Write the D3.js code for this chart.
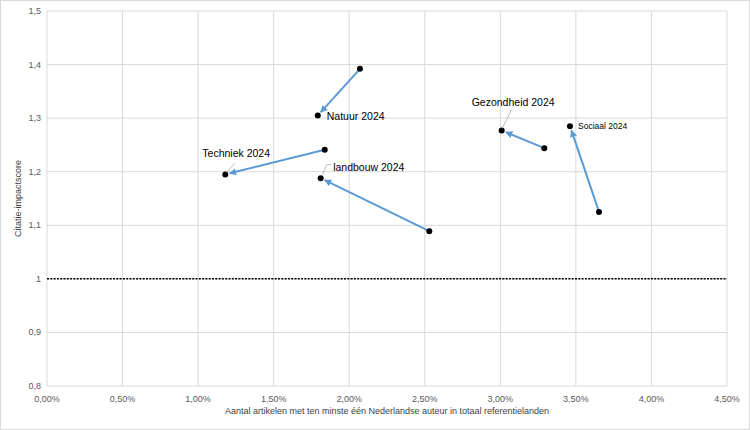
<!DOCTYPE html>
<html lang="nl">
<head>
<meta charset="utf-8">
<title>Citatie-impactscore</title>
<script src="https://cdn.jsdelivr.net/npm/d3@7"></script>
<style>
  body { margin: 0; background: #fff; }
  text { font-family: "Liberation Sans", Arial, sans-serif; }
</style>
</head>
<body>
<script>
// data
var fields    = ["Natuur", "Techniek", "landbouw", "Gezondheid", "Sociaal"];
var labels    = ["Natuur 2024", "Techniek 2024", "landbouw 2024", "Gezondheid 2024", "Sociaal 2024"];
var shareFrom = [0.02071, 0.01838, 0.02530, 0.03291, 0.03653];
var scoreFrom = [1.392, 1.241, 1.089, 1.244, 1.125];
var shareTo   = [0.01792, 0.01180, 0.01811, 0.03009, 0.03461];
var scoreTo   = [1.305, 1.195, 1.188, 1.277, 1.285];
var xTicks = [0, 0.005, 0.01, 0.015, 0.02, 0.025, 0.03, 0.035, 0.04, 0.045];
var yTicks = [0.8, 0.9, 1.0, 1.1, 1.2, 1.3, 1.4, 1.5];

var width = 750, height = 430;
var margin = {top: 11, right: 23, bottom: 44, left: 47};

var svg = d3.select("body").append("svg")
    .attr("width", width)
    .attr("height", height);

svg.append("rect")
    .attr("x", 0.5).attr("y", 0.5)
    .attr("width", width - 1).attr("height", height - 1)
    .attr("fill", "#fff")
    .attr("stroke", "#d9d9d9");

var x = d3.scaleLinear().domain([0, 0.045]).range([margin.left, width - margin.right]);
var y = d3.scaleLinear().domain([0.8, 1.5]).range([height - margin.bottom, margin.top]);

// gridlines
svg.append("g").selectAll("line")
    .data(xTicks).enter().append("line")
    .attr("x1", d => x(d)).attr("x2", d => x(d))
    .attr("y1", y(0.8)).attr("y2", y(1.5))
    .attr("stroke", "#d9d9d9").attr("stroke-width", 1);

svg.append("g").selectAll("line")
    .data(yTicks).enter().append("line")
    .attr("x1", x(0)).attr("x2", x(0.045))
    .attr("y1", d => y(d)).attr("y2", d => y(d))
    .attr("stroke", "#d9d9d9").attr("stroke-width", 1);

// tick labels
var fmtPct = d => (d * 100).toFixed(2).replace(".", ",") + "%";
var fmtNum = d => d === 1 ? "1" : d.toFixed(1).replace(".", ",");

svg.append("g").selectAll("text")
    .data(xTicks).enter().append("text")
    .attr("x", d => x(d)).attr("y", y(0.8) + 16)
    .attr("text-anchor", "middle")
    .attr("font-size", 9).attr("fill", "#595959")
    .text(fmtPct);

svg.append("g").selectAll("text")
    .data(yTicks).enter().append("text")
    .attr("x", x(0) - 6).attr("y", d => y(d) + 3)
    .attr("text-anchor", "end")
    .attr("font-size", 9).attr("fill", "#595959")
    .text(fmtNum);

// axis titles
svg.append("text")
    .attr("x", (x(0) + x(0.045)) / 2).attr("y", y(0.8) + 28)
    .attr("text-anchor", "middle")
    .attr("font-size", 9).attr("fill", "#404040")
    .text("Aantal artikelen met ten minste één Nederlandse auteur in totaal referentielanden");

svg.append("text")
    .attr("transform", "translate(21," + ((y(0.8) + y(1.5)) / 2) + ") rotate(-90)")
    .attr("text-anchor", "middle")
    .attr("font-size", 9).attr("fill", "#404040")
    .text("Citatie-impactscore");

// reference line at 1
svg.append("line")
    .attr("x1", x(0)).attr("x2", x(0.045))
    .attr("y1", y(1)).attr("y2", y(1))
    .attr("stroke", "#000").attr("stroke-width", 1.5)
    .attr("stroke-dasharray", "2,1.3");

// arrow marker
svg.append("defs").append("marker")
    .attr("id", "arrow")
    .attr("viewBox", "0 0 10 10")
    .attr("refX", 9).attr("refY", 5)
    .attr("markerWidth", 3.6).attr("markerHeight", 3.6)
    .attr("orient", "auto")
  .append("path")
    .attr("d", "M0,0 L10,5 L0,10 z")
    .attr("fill", "#5b9bd5");

var rows = fields.map(function(f, i) {
  return {field: f, label: labels[i], x0: shareFrom[i], y0: scoreFrom[i], x1: shareTo[i], y1: scoreTo[i]};
});

// arrows from old to 2024 position, stopping short of the dot
svg.append("g").selectAll("line")
    .data(rows).enter().append("line")
    .each(function(d) {
      var ax = x(d.x0), ay = y(d.y0), bx = x(d.x1), by = y(d.y1);
      var len = Math.hypot(bx - ax, by - ay);
      var k = (len - 4.5) / len;
      d3.select(this)
        .attr("x1", ax).attr("y1", ay)
        .attr("x2", ax + (bx - ax) * k).attr("y2", ay + (by - ay) * k);
    })
    .attr("stroke", "#5b9bd5").attr("stroke-width", 2)
    .attr("marker-end", "url(#arrow)");

// dots
svg.append("g").selectAll("circle")
    .data(rows).enter().append("circle")
    .attr("cx", d => x(d.x0)).attr("cy", d => y(d.y0)).attr("r", 3)
    .attr("fill", "#000");

svg.append("g").selectAll("circle")
    .data(rows).enter().append("circle")
    .attr("cx", d => x(d.x1)).attr("cy", d => y(d.y1)).attr("r", 3)
    .attr("fill", "#000");

// label placement relative to the 2024 point
var labelPos = {
  Natuur:     {dx: 9,     dy: 4.5,   size: 10.5, leader: null},
  Techniek:   {dx: -23,   dy: -17.5, size: 10.5, leader: [[9.5, -11], [1.5, -2]]},
  landbouw:   {dx: 12.5,  dy: -7,    size: 10.5, leader: [[11, -13.5], [6, -13.5], [1.5, -2.5]]},
  Gezondheid: {dx: -30,   dy: -24.5, size: 10.5, leader: [[10, -21], [0.5, -2]]},
  Sociaal:    {dx: 8,     dy: 3.3,   size: 8.5,  leader: null}
};

rows.forEach(function(d) {
  var p = labelPos[d.field];
  var px = x(d.x1), py = y(d.y1);
  if (p.leader) {
    svg.append("path")
      .attr("d", d3.line()(p.leader.map(q => [px + q[0], py + q[1]])))
      .attr("fill", "none").attr("stroke", "#a6a6a6").attr("stroke-width", 0.75);
  }
  svg.append("text")
    .attr("x", px + p.dx).attr("y", py + p.dy)
    .attr("font-size", p.size).attr("fill", "#000")
    .text(d.label);
});
</script>
</body>
</html>
